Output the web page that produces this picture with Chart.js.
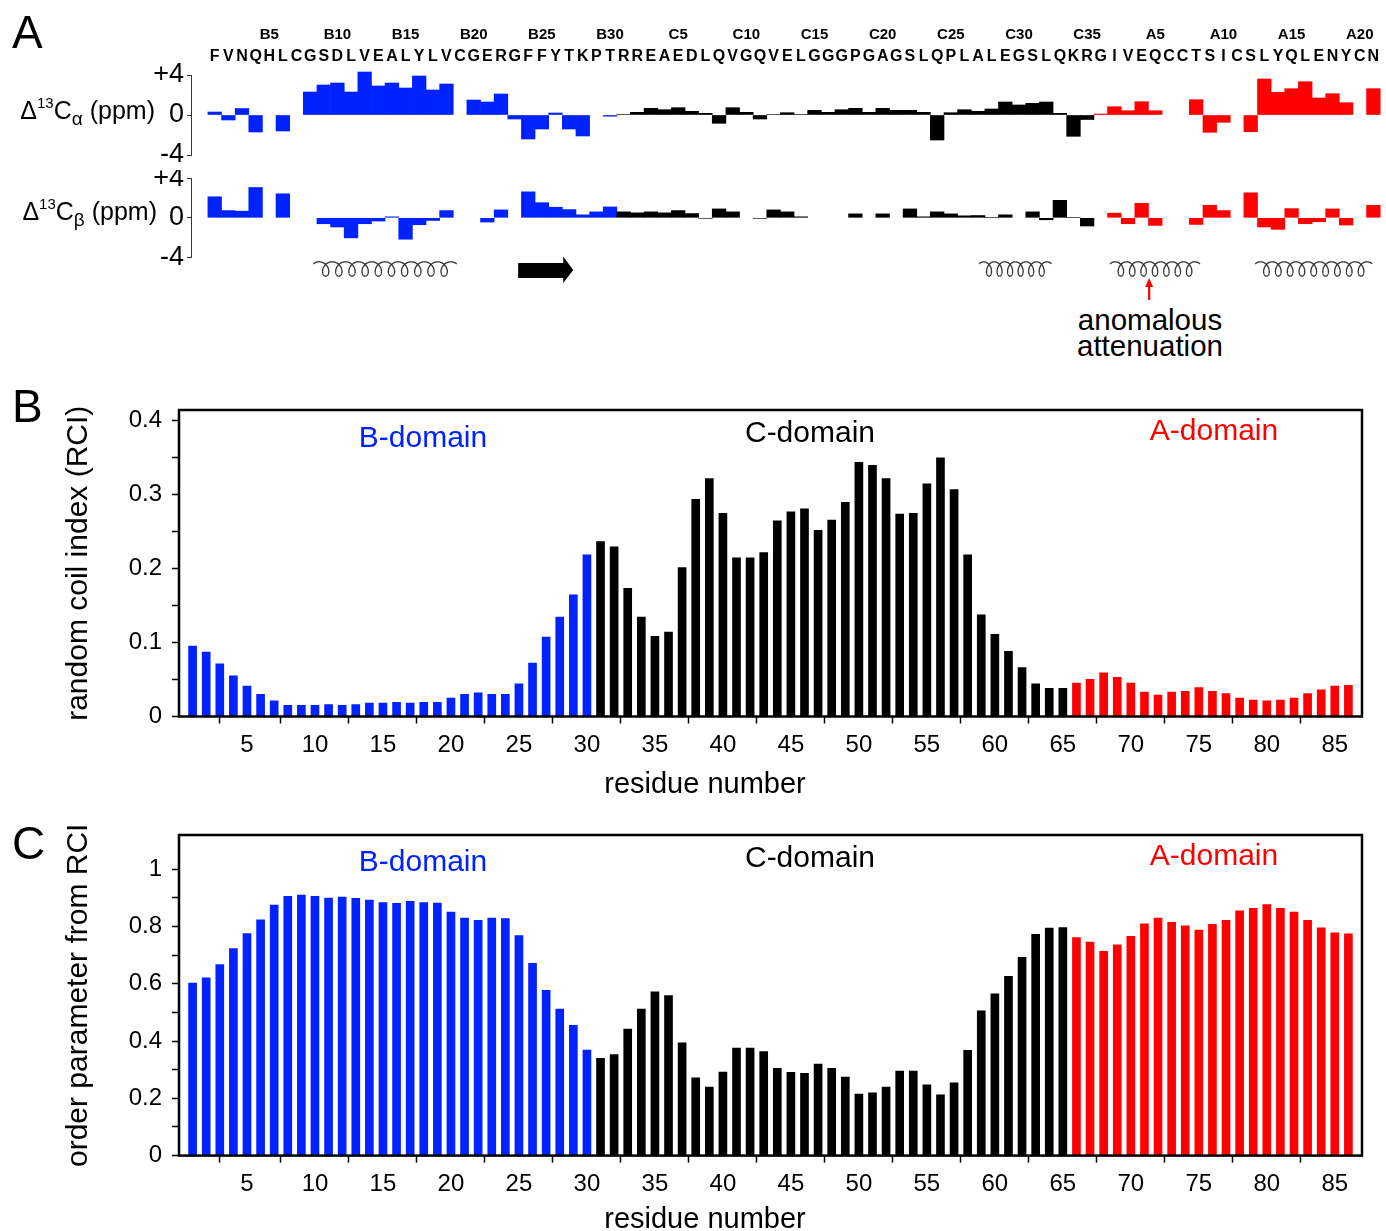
<!DOCTYPE html>
<html><head><meta charset="utf-8">
<script src="https://cdn.jsdelivr.net/npm/chart.js@4.4.1/dist/chart.umd.min.js"></script>
<style>
html,body{margin:0;padding:0;background:#fff;overflow:hidden;}
body{width:1386px;height:1231px;position:relative;}
canvas{position:absolute;left:0;}
.t{position:absolute;font-family:'Liberation Sans',Arial,Helvetica,sans-serif;white-space:nowrap;line-height:1;color:#000;}
.c{transform:translate(-50%,-50%);}
.yt{font-family:'Liberation Sans Narrow','Liberation Sans',Arial,sans-serif;font-size:25px;line-height:30px;}
.yt sup{font-size:15px;vertical-align:0;position:relative;top:-11px;}
.yt sub{font-size:19px;vertical-align:0;position:relative;top:6px;}
</style></head><body>
<canvas id="cA1" width="1386" height="150" style="top:20px"></canvas>
<canvas id="cA2" width="1386" height="130" style="top:170px"></canvas>
<canvas id="cB" width="1386" height="405" style="top:400px"></canvas>
<canvas id="cC" width="1386" height="420" style="top:825px"></canvas>

<div class="t" style="left:12px;top:9px;font-size:46px">A</div>
<div class="t" style="left:12px;top:383px;font-size:46px">B</div>
<div class="t" style="left:12px;top:820px;font-size:46px">C</div>

<div class="t yt" style="right:1231px;top:95px">&Delta;<sup>13</sup>C<sub>&alpha;</sub> (ppm)</div>
<div class="t yt" style="right:1229px;top:196px">&Delta;<sup>13</sup>C<sub>&beta;</sub> (ppm)</div>

<div class="t c" style="left:1150px;top:320px;font-size:29.5px">anomalous</div>
<div class="t c" style="left:1150px;top:346px;font-size:29.5px">attenuation</div>

<div class="t c" style="left:705px;top:783px;font-size:29px">residue number</div>
<div class="t c" style="left:705px;top:1218px;font-size:29px">residue number</div>

<div id="labels"></div>

<script>
// ---------------- data ----------------
const sequence = ['F','V','N','Q','H','L','C','G','S','D','L','V','E','A','L','Y','L','V','C','G','E','R','G','F','F','Y','T','K','P','T',
  'R','R','E','A','E','D','L','Q','V','G','Q','V','E','L','G','G','G','P','G','A','G','S','L','Q','P','L','A','L','E','G','S','L','Q','K','R',
  'G','I','V','E','Q','C','C','T','S','I','C','S','L','Y','Q','L','E','N','Y','C','N'];
const chainLabelResidues = [5,10,15,20,25,30,35,40,45,50,55,60,65,70,75,80,85];
const chainLabelTexts = ['B5','B10','B15','B20','B25','B30','C5','C10','C15','C20','C25','C30','C35','A5','A10','A15','A20'];

const domainNames = ['B-domain','C-domain','A-domain'];
const domainStart = [1,31,66];
const domainEnd = [30,65,86];
const domainColors = ['#0022ff','#000000','#ff0000'];

// secondary shift Δ13Cα (ppm); null = not observed
const dCalpha = [0.3,-0.5,0.65,-1.7,null,-1.6,null,2.3,3.0,3.2,2.3,4.3,2.9,3.2,2.7,3.9,2.5,3.1,null,1.5,1.3,2.1,-0.4,-2.4,-1.4,0.2,-1.4,-2.1,null,-0.12,
  0.05,0.27,0.67,0.53,0.73,0.37,0.17,-0.83,0.73,0.27,-0.4,0.05,0.23,0.05,0.47,0.27,0.53,0.67,0.27,0.67,0.47,0.47,0.27,-2.5,0.23,0.53,0.37,0.6,1.3,1.0,1.17,1.3,0.17,-2.13,-0.45,
  0.1,0.83,0.43,1.33,0.43,null,null,1.53,-1.73,-0.73,null,-1.67,3.6,2.27,2.63,3.33,1.7,2.13,1.23,null,2.63];
// secondary shift Δ13Cβ (ppm)
const dCbeta = [2.13,0.73,0.67,3.07,null,2.43,null,null,-0.6,-0.93,-2.03,-0.6,-0.33,0.1,-2.17,-0.7,-0.27,0.73,null,null,-0.43,0.8,null,2.63,1.53,1.07,0.83,0.3,0.6,1.1,
  0.6,0.5,0.6,0.5,0.73,0.43,-0.05,0.9,0.6,null,-0.05,0.8,0.6,0.1,null,null,null,0.4,null,0.4,null,0.9,0.1,0.6,0.4,0.2,0.23,0.05,0.3,null,0.6,-0.2,1.77,0.05,-0.83,
  null,0.47,-0.6,1.47,-0.77,null,null,-0.67,1.27,0.73,null,2.53,-0.93,-1.17,0.93,-0.6,-0.4,0.9,-0.73,null,1.27];

const rciValues = [0.095,0.087,0.071,0.055,0.041,0.030,0.021,0.015,0.015,0.015,0.016,0.015,0.016,0.018,0.018,0.019,0.018,0.019,0.019,0.025,0.030,0.032,0.030,0.030,0.044,0.072,0.107,0.134,0.164,0.218,
  0.236,0.229,0.173,0.134,0.108,0.114,0.201,0.293,0.321,0.274,0.214,0.214,0.221,0.264,0.276,0.280,0.251,0.265,0.289,0.343,0.339,0.321,0.273,0.274,0.314,0.349,0.306,0.218,0.137,0.111,0.088,0.066,0.044,0.038,0.038,
  0.045,0.050,0.059,0.053,0.045,0.033,0.029,0.033,0.034,0.039,0.034,0.031,0.025,0.022,0.021,0.022,0.025,0.031,0.036,0.041,0.042];

const orderValues = [0.603,0.621,0.667,0.723,0.776,0.824,0.875,0.906,0.910,0.906,0.900,0.903,0.899,0.893,0.884,0.881,0.888,0.884,0.882,0.851,0.830,0.822,0.830,0.828,0.769,0.672,0.577,0.512,0.455,0.369,
  0.340,0.353,0.442,0.512,0.572,0.559,0.394,0.272,0.239,0.292,0.376,0.376,0.363,0.305,0.291,0.287,0.320,0.305,0.274,0.215,0.219,0.239,0.295,0.295,0.247,0.212,0.254,0.368,0.506,0.565,0.626,0.693,0.773,0.795,0.797,
  0.762,0.746,0.714,0.736,0.766,0.810,0.830,0.815,0.803,0.788,0.808,0.822,0.855,0.864,0.877,0.864,0.851,0.822,0.796,0.778,0.775];

const xTickValues = [1,5,10,15,20,25,30,35,40,45,50,55,60,65,70,75,80,85];
const xTickLabels = ['','5','10','15','20','25','30','35','40','45','50','55','60','65','70','75','80','85'];
const rciTickLabels = ['0','0.1','0.2','0.3','0.4'];
const orderTickLabels = ['0','0.2','0.4','0.6','0.8','1'];
const shiftTickLabels = ['-4','0','+4'];

const helixStart = [8.22,57.07,66.68,77.33];
const helixEnd = [18.75,62.4,73.28,85.92];
const helixTurns = [10,6,7,9];
const strandStart = [23.26];
const strandEnd = [27.3];
const attenuationResidue = 69.55;

// ---------------- helpers ----------------
const FONT = "'Liberation Sans', Arial, Helvetica, sans-serif";
const NARROW = "'Liberation Sans Narrow', 'Liberation Sans', Arial, sans-serif";
const residues = sequence.map((s, i) => i + 1);
function domainColor(r){
  for (let d = 0; d < domainStart.length; d++) if (r >= domainStart[d] && r <= domainEnd[d]) return domainColors[d];
  return '#000';
}
const residueColors = residues.map(domainColor);
function points(vals){ return residues.map((r, i) => ({x: r, y: vals[i]})); }
function noPad(s){ s.paddingTop = 0; s.paddingBottom = 0; s.paddingLeft = 0; s.paddingRight = 0; }

const boxPlugin = {
  id: 'box',
  afterDatasetsDraw(chart){
    const {ctx, chartArea: a} = chart;
    ctx.save(); ctx.lineWidth = 2.5; ctx.strokeStyle = '#000';
    ctx.strokeRect(a.left, a.top, a.right - a.left, a.bottom - a.top);
    ctx.restore();
  }
};

const seqPlugin = {
  id: 'seq',
  afterDraw(chart){
    const {ctx} = chart; const xs = chart.scales.x;
    ctx.save(); ctx.fillStyle = '#000'; ctx.textAlign = 'center'; ctx.textBaseline = 'middle';
    ctx.font = "bold 16px " + FONT;
    sequence.forEach((s, i) => ctx.fillText(s, xs.getPixelForValue(i + 1), 57 - 20));
    ctx.font = "bold 15px " + FONT;
    chainLabelResidues.forEach((r, i) => ctx.fillText(chainLabelTexts[i], xs.getPixelForValue(r), 35 - 20));
    ctx.restore();
  }
};

const ssPlugin = {
  id: 'ss',
  afterDraw(chart){
    const {ctx} = chart; const xs = chart.scales.x; const off = 170;
    ctx.save();
    ctx.strokeStyle = '#333'; ctx.lineWidth = 1.3;
    const yc = 269 - off, ry = 7.2;
    for (let h = 0; h < helixStart.length; h++){
      const x0 = xs.getPixelForValue(helixStart[h]), x1 = xs.getPixelForValue(helixEnd[h]);
      const n = helixTurns[h];
      const t0 = 0.75 * Math.PI, t1 = 2 * Math.PI * n + 1.25 * Math.PI;
      const k = 2.9;
      const a = (x1 - x0) / ((t1 - t0) + k * (Math.sin(t0) - Math.sin(t1)));
      const b = k * a;
      const base = x0 - (a * t0 - b * Math.sin(t0));
      ctx.beginPath();
      let first = true;
      for (let t = t0; t <= t1 + 1e-6; t += 0.05){
        const x = base + a * t - b * Math.sin(t), y = yc + ry * Math.cos(t);
        if (first){ ctx.moveTo(x, y); first = false; } else ctx.lineTo(x, y);
      }
      ctx.stroke();
    }
    ctx.fillStyle = '#000';
    for (let s = 0; s < strandStart.length; s++){
      const xa = xs.getPixelForValue(strandStart[s]), xb = xs.getPixelForValue(strandEnd[s]);
      const xh = xb - 10;
      ctx.beginPath();
      ctx.moveTo(xa, 263 - off); ctx.lineTo(xh, 263 - off); ctx.lineTo(xh, 256.5 - off);
      ctx.lineTo(xb, 270 - off); ctx.lineTo(xh, 283 - off); ctx.lineTo(xh, 278 - off);
      ctx.lineTo(xa, 278 - off); ctx.closePath(); ctx.fill();
    }
    const xr = xs.getPixelForValue(attenuationResidue);
    ctx.strokeStyle = '#ff0000'; ctx.fillStyle = '#ff0000'; ctx.lineWidth = 2.2;
    ctx.beginPath(); ctx.moveTo(xr, 300 - off); ctx.lineTo(xr, 285 - off); ctx.stroke();
    ctx.beginPath(); ctx.moveTo(xr, 278 - off); ctx.lineTo(xr - 4, 287 - off); ctx.lineTo(xr + 4, 287 - off); ctx.closePath(); ctx.fill();
    ctx.restore();
  }
};

Chart.defaults.font.family = FONT;
Chart.defaults.color = '#000';

function shiftChart(id, vals, padTop, padBottom, extraPlugins){
  return new Chart(document.getElementById(id), {
    type: 'bar',
    data: {datasets: [{data: points(vals), backgroundColor: residueColors, borderWidth: 0,
      barPercentage: 1.0, categoryPercentage: 1.0, clip: false}]},
    options: {
      responsive: false, animation: false,
      layout: {padding: {left: 0, right: 5.8, top: padTop, bottom: padBottom}},
      plugins: {legend: {display: false}, tooltip: {enabled: false}},
      scales: {
        x: {type: 'linear', min: -0.74, max: 86.5, offset: false, display: false},
        y: {min: -4, max: 4, afterFit: s => { s.width = 191; noPad(s); },
          ticks: {stepSize: 4, font: {family: NARROW, size: 27}, color: '#000', padding: 3,
            callback: (v, i) => shiftTickLabels[i]},
          grid: {drawOnChartArea: false, drawTicks: true, tickLength: 4, tickWidth: 1, tickColor: '#333'},
          border: {display: true, color: '#333', width: 1}}
      }
    },
    plugins: extraPlugins
  });
}
shiftChart('cA1', dCalpha, 55, 15, [seqPlugin]);
shiftChart('cA2', dCbeta, 8.3, 42.7, [ssPlugin]);

function panelChart(id, vals, yMax, step, labels, yTitle, padTop, xHeight, maxTick){
  return new Chart(document.getElementById(id), {
    type: 'bar',
    data: {datasets: [{data: points(vals), backgroundColor: residueColors, borderWidth: 0, barThickness: 8}]},
    options: {
      responsive: false, animation: false,
      layout: {padding: {left: 61, right: 24, top: padTop, bottom: 0}},
      plugins: {legend: {display: false}, tooltip: {enabled: false}},
      scales: {
        x: {type: 'linear', min: 0, max: 87, offset: false,
          afterBuildTicks: s => { s.ticks = xTickValues.map(v => ({value: v})); },
          afterFit: s => { s.height = xHeight; noPad(s); },
          ticks: {font: {size: 24}, color: '#000', padding: 7, maxRotation: 0, autoSkip: false,
            callback: (v, i) => xTickLabels[i]},
          grid: {drawOnChartArea: false, drawTicks: true, tickLength: 7, tickWidth: 1.5, tickColor: '#000'},
          border: {display: false}
        },
        y: {min: 0, max: yMax,
          afterFit: s => { s.width = 118; noPad(s); },
          afterBuildTicks: s => { s.ticks = s.ticks.filter(t => t.value <= maxTick + 1e-9); },
          ticks: {stepSize: step, includeBounds: false, font: {size: 24}, color: '#000', padding: 10,
            callback: (v, i) => (i % 2 === 0 ? labels[i / 2] : '')},
          grid: {drawOnChartArea: false, drawTicks: true, tickLength: 7, tickWidth: 1.5, tickColor: '#000'},
          border: {display: false},
          title: {display: true, text: yTitle, font: {size: 30}, color: '#000', padding: {top: 0, bottom: 0}}
        }
      }
    },
    plugins: [boxPlugin]
  });
}
panelChart('cB', rciValues, 0.4135, 0.05, rciTickLabels, 'random coil index (RCI)', 10, 88.5, 0.4);
panelChart('cC', orderValues, 1.12, 0.1, orderTickLabels, 'order parameter from RCI', 10, 89.4, 1.0);

const domainLabelX = [423, 810, 1214];
const domainLabelYB = [437, 432, 430];
const domainLabelYC = [861, 857, 855];
const holder = document.getElementById('labels');
domainNames.forEach((n, d) => {
  [domainLabelYB[d], domainLabelYC[d]].forEach(y => {
    const el = document.createElement('div');
    el.className = 't c';
    el.style.cssText = `left:${domainLabelX[d]}px;top:${y}px;font-size:30px;color:${domainColors[d]}`;
    el.textContent = n;
    holder.appendChild(el);
  });
});
</script>
</body></html>
